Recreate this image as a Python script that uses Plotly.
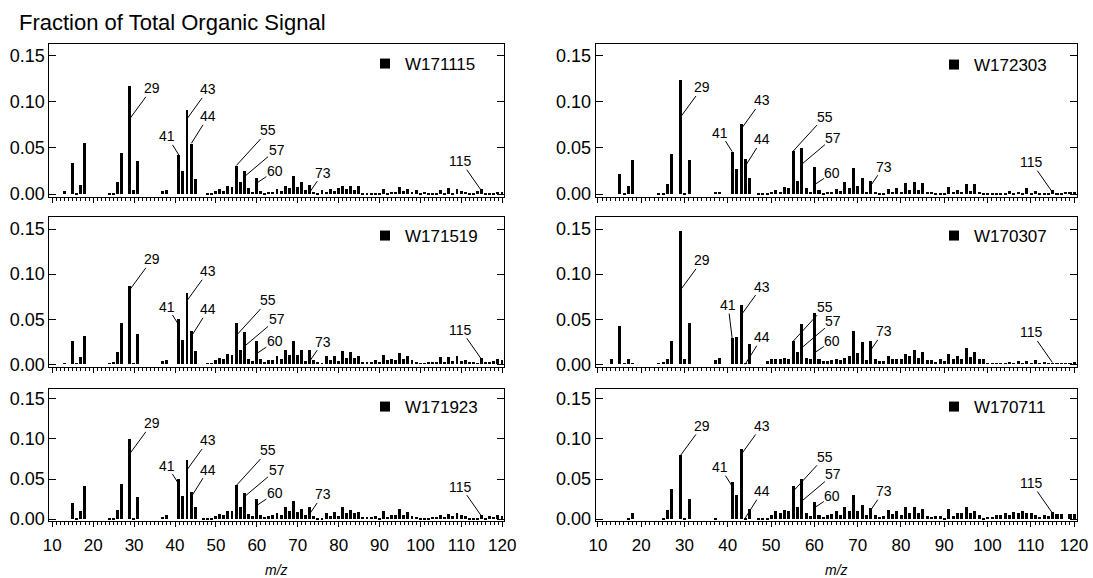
import plotly.graph_objects as go

# ---------------- data ----------------
MZ = list(range(12, 121))
SAMPLES = ["W171115", "W172303", "W171519", "W170307", "W171923", "W170711"]

FRAC_W171115 = [
    0, 0.004, 0, 0.034, 0.002, 0.010, 0.056, 0, 0,
    0, 0, 0, 0.001, 0.002, 0.013, 0.045, 0, 0.118, 0.005,
    0.036, 0, 0, 0, 0, 0, 0.004, 0.005, 0, 0,
    0.043, 0.025, 0.091, 0.055, 0.017, 0, 0, 0.001, 0.002, 0.004,
    0.006, 0.004, 0.009, 0.008, 0.031, 0.013, 0.025, 0.007, 0.003, 0.018,
    0.004, 0.002, 0.003, 0.003, 0.006, 0.004, 0.009, 0.007, 0.020, 0.008,
    0.013, 0.005, 0.010, 0.003, 0.002, 0.005, 0.003, 0.006, 0.004, 0.007,
    0.009, 0.006, 0.009, 0.005, 0.009, 0.002, 0.002, 0.002, 0.001, 0.002,
    0.006, 0.002, 0.003, 0.003, 0.008, 0.004, 0.006, 0.003, 0.005, 0.002,
    0.003, 0.001, 0.001, 0.002, 0.005, 0.002, 0.007, 0.002, 0.006, 0.004,
    0.003, 0.001, 0.001, 0.004, 0.006, 0.002, 0.001, 0.001, 0.003, 0.003,
]
FRAC_W172303 = [
    0, 0, 0, 0.022, 0.002, 0.009, 0.037, 0, 0,
    0, 0, 0, 0.001, 0.002, 0.011, 0.044, 0, 0.124, 0.002,
    0.037, 0, 0, 0, 0, 0, 0.003, 0.003, 0, 0,
    0.046, 0.028, 0.076, 0.038, 0.018, 0, 0.001, 0.001, 0.002, 0.003,
    0.005, 0.003, 0.008, 0.007, 0.047, 0.014, 0.050, 0.007, 0.003, 0.030,
    0.005, 0.002, 0.003, 0.003, 0.006, 0.004, 0.013, 0.007, 0.029, 0.009,
    0.018, 0.003, 0.015, 0.003, 0.001, 0.001, 0.006, 0.003, 0.007, 0.003,
    0.012, 0.005, 0.013, 0.005, 0.012, 0.003, 0.003, 0.001, 0.002, 0.001,
    0.008, 0.003, 0.005, 0.003, 0.011, 0.004, 0.011, 0.003, 0.002, 0.001,
    0.002, 0.002, 0.002, 0.001, 0.004, 0.001, 0.003, 0.001, 0.007, 0.002,
    0.004, 0.001, 0.001, 0.001, 0.005, 0.002, 0.001, 0.003, 0.003, 0.003,
]
FRAC_W171519 = [
    0, 0.001, 0, 0.026, 0.001, 0.008, 0.031, 0, 0,
    0, 0, 0, 0.001, 0.002, 0.013, 0.045, 0, 0.086, 0.001,
    0.033, 0, 0, 0, 0, 0, 0.003, 0.004, 0, 0,
    0.050, 0.027, 0.079, 0.036, 0.014, 0, 0, 0.001, 0.001, 0.004,
    0.007, 0.005, 0.011, 0.010, 0.045, 0.016, 0.035, 0.006, 0.003, 0.026,
    0.005, 0.002, 0.004, 0.004, 0.009, 0.005, 0.015, 0.010, 0.026, 0.010,
    0.015, 0.003, 0.015, 0.004, 0.002, 0.001, 0.009, 0.004, 0.009, 0.003,
    0.014, 0.007, 0.013, 0.007, 0.009, 0.002, 0.002, 0.002, 0.004, 0.002,
    0.010, 0.004, 0.006, 0.004, 0.012, 0.005, 0.009, 0.004, 0.002, 0.001,
    0.001, 0.002, 0.002, 0.002, 0.008, 0.002, 0.008, 0.003, 0.009, 0.003,
    0.004, 0.002, 0.002, 0.001, 0.007, 0.002, 0.002, 0.003, 0.005, 0.004,
]
FRAC_W170307 = [
    0, 0.005, 0, 0.042, 0.001, 0.005, 0.001, 0, 0,
    0, 0, 0, 0.001, 0.002, 0.005, 0.026, 0, 0.147, 0.005,
    0.045, 0, 0, 0, 0, 0, 0.004, 0.007, 0, 0,
    0.029, 0.030, 0.065, 0.001, 0.022, 0, 0, 0, 0.003, 0.005,
    0.006, 0.005, 0.007, 0.006, 0.026, 0.013, 0.044, 0.007, 0.006, 0.056,
    0.006, 0.003, 0.003, 0.004, 0.006, 0.004, 0.007, 0.009, 0.036, 0.012,
    0.024, 0.004, 0.026, 0.005, 0.003, 0.003, 0.009, 0.005, 0.005, 0.006,
    0.011, 0.009, 0.016, 0.007, 0.013, 0.004, 0.004, 0.002, 0.005, 0.003,
    0.011, 0.005, 0.009, 0.005, 0.018, 0.008, 0.013, 0.005, 0.005, 0.001,
    0.001, 0.001, 0.001, 0.001, 0.002, 0.001, 0.003, 0.001, 0.003, 0.001,
    0.004, 0.001, 0.002, 0.001, 0.001, 0.001, 0.001, 0.001, 0.001, 0.002,
]
FRAC_W171923 = [
    0, 0, 0, 0.021, 0.001, 0.010, 0.042, 0, 0,
    0, 0, 0, 0.001, 0.001, 0.012, 0.044, 0, 0.101, 0.001,
    0.028, 0, 0, 0, 0, 0, 0.003, 0.006, 0, 0,
    0.050, 0.029, 0.074, 0.034, 0.015, 0, 0.001, 0.001, 0.001, 0.004,
    0.007, 0.005, 0.010, 0.010, 0.043, 0.015, 0.033, 0.007, 0.004, 0.025,
    0.005, 0.003, 0.004, 0.005, 0.008, 0.005, 0.016, 0.010, 0.023, 0.009,
    0.013, 0.005, 0.015, 0.004, 0.002, 0.002, 0.008, 0.004, 0.009, 0.004,
    0.015, 0.008, 0.012, 0.008, 0.009, 0.003, 0.003, 0.003, 0.004, 0.002,
    0.010, 0.003, 0.006, 0.005, 0.013, 0.005, 0.009, 0.004, 0.003, 0.001,
    0.002, 0.002, 0.003, 0.003, 0.006, 0.003, 0.007, 0.004, 0.008, 0.005,
    0.004, 0.002, 0.002, 0.001, 0.006, 0.002, 0.004, 0.003, 0.006, 0.004,
]
FRAC_W170711 = [
    0, 0, 0, 0, 0, 0.001, 0.008, 0, 0,
    0, 0, 0, 0, 0.001, 0.012, 0.038, 0, 0.080, 0.001,
    0.026, 0, 0, 0, 0, 0, 0.001, 0, 0, 0,
    0.047, 0.030, 0.088, 0.001, 0.013, 0, 0.001, 0.001, 0.001, 0.005,
    0.011, 0.008, 0.012, 0.011, 0.042, 0.016, 0.050, 0.008, 0.004, 0.022,
    0.005, 0.003, 0.006, 0.007, 0.011, 0.006, 0.015, 0.011, 0.031, 0.011,
    0.018, 0.005, 0.014, 0.005, 0.003, 0.004, 0.012, 0.007, 0.011, 0.005,
    0.016, 0.008, 0.015, 0.008, 0.013, 0.004, 0.003, 0.004, 0.004, 0.002,
    0.013, 0.004, 0.008, 0.008, 0.016, 0.008, 0.011, 0.005, 0.001, 0.003,
    0.003, 0.005, 0.005, 0.008, 0.006, 0.009, 0.008, 0.010, 0.008, 0.008,
    0.005, 0.003, 0.005, 0.004, 0.009, 0.007, 0.007, 0, 0.007, 0.007,
]
SPECTRA = [FRAC_W171115, FRAC_W172303, FRAC_W171519,
           FRAC_W170307, FRAC_W171923, FRAC_W170711]

# peak labels (m/z) and the height on each bar where the leader line ends
TAG_MZ = [29, 41, 43, 44, 55, 57, 60, 73, 115]
TAG_Y_W171115 = [0.082, 0.042, 0.082, 0.055, 0.031, 0.019, 0.012, 0.0025, 0.003]
TAG_Y_W172303 = [0.083, 0.046, 0.070, 0.030, 0.046, 0.032, 0.010, 0.009, 0.002]
TAG_Y_W171519 = [0.083, 0.043, 0.071, 0.031, 0.032, 0.020, 0.012, 0.004, 0.005]
TAG_Y_W170307 = [0.082, 0.029, 0.054, 0.000, 0.025, 0.018, 0.0127, 0.0155, 0.002]
TAG_Y_W171923 = [0.082, 0.043, 0.062, 0.028, 0.042, 0.028, 0.017, 0.007, 0.003]
TAG_Y_W170711 = [0.079, 0.041, 0.080, 0.001, 0.034, 0.022, 0.014, 0.011, 0.0075]
TAG_Y = [TAG_Y_W171115, TAG_Y_W172303, TAG_Y_W171519,
         TAG_Y_W170307, TAG_Y_W171923, TAG_Y_W170711]

Y_TICKS = [0.0, 0.05, 0.10, 0.15]
Y_TICK_TEXT = ["0.00", "0.05", "0.10", "0.15"]

# ---------------- styling / layout ----------------
W, H = 1093, 578
FONT = "Liberation Sans, Arial, sans-serif"

# label text offsets (px) from the leader-line end point
TAG_OFFSETS = {29: (22, -30), 41: (-12, -19), 43: (21, -29), 44: (17, -27),
               55: (32, -35), 57: (32, -27), 60: (18, -12), 73: (13, -19),
               115: (-21, -30)}
TAG_OFFSET_OVERRIDES = {(3, 41): (-4, -33)}

XDOM = [[49.3 / W, 504.3 / W], [595.7 / W, 1077 / W]]
XRANGE = [[9.27, 120.49], [9.47, 120.69]]
YDOM = [[0.6595, 0.9244], [0.3651, 0.6240], [0.0979, 0.3277]]
YRANGE = [-0.003, 0.163]
LEGEND_PX = [(365, 64), (934, 65), (365, 236), (934, 236), (365, 407), (934, 407)]

fig = go.Figure()
layout = dict(
    width=W, height=H,
    margin=dict(l=0, r=0, t=0, b=0, pad=0, autoexpand=False),
    paper_bgcolor="white", plot_bgcolor="white",
    font=dict(family=FONT, color="black"),
    bargap=0,
    annotations=[],
)

for i, (name, vals) in enumerate(zip(SAMPLES, SPECTRA)):
    row, col = divmod(i, 2)
    sfx = "" if i == 0 else str(i + 1)
    xa, ya = "x" + sfx, "y" + sfx
    lg = "legend" + sfx
    fig.add_trace(go.Bar(
        x=MZ, y=vals, width=0.7, xaxis=xa, yaxis=ya,
        marker=dict(color="black", line=dict(width=0)),
        showlegend=False, hoverinfo="x+y",
    ))
    fig.add_trace(go.Scatter(
        x=[None], y=[None], xaxis=xa, yaxis=ya, mode="markers", name=name,
        marker=dict(symbol="square", size=10, color="black"),
        legend=lg, showlegend=True,
    ))
    lx, ly = LEGEND_PX[i]
    layout[lg] = dict(
        x=lx / W, y=1 - ly / H, xanchor="left", yanchor="middle",
        bgcolor="rgba(0,0,0,0)", borderwidth=0,
        font=dict(family=FONT, size=17, color="black"),
    )
    bottom = row == 2
    layout["xaxis" + sfx] = dict(
        domain=XDOM[col], range=XRANGE[col], anchor=ya, automargin=False,
        tick0=10, dtick=10, ticks="outside", ticklen=5, tickwidth=1,
        tickcolor="black",
        minor=dict(dtick=1, ticks="outside", ticklen=3, tickcolor="black",
                   tickwidth=1, showgrid=False),
        showline=True, linecolor="black", linewidth=1, mirror=True,
        showgrid=False, zeroline=False,
        showticklabels=bottom, ticklabelstandoff=3,
        tickfont=dict(family=FONT, size=17, color="black"),
        fixedrange=True,
    )
    layout["yaxis" + sfx] = dict(
        domain=YDOM[row], range=YRANGE, anchor=xa, automargin=False,
        tickvals=Y_TICKS, ticktext=Y_TICK_TEXT,
        ticks="inside", ticklen=7, tickwidth=1, tickcolor="black",
        showline=True, linecolor="black", linewidth=1, mirror="ticks",
        showgrid=False, zeroline=False,
        tickfont=dict(family=FONT, size=18, color="black"),
        fixedrange=True,
    )
    for mz, ty in zip(TAG_MZ, TAG_Y[i]):
        ax, ay = TAG_OFFSET_OVERRIDES.get((i, mz), TAG_OFFSETS[mz])
        layout["annotations"].append(dict(
            x=mz, y=ty, xref=xa, yref=ya, text=str(mz),
            showarrow=True, arrowhead=0, arrowwidth=1, arrowcolor="black",
            ax=ax, ay=ay, standoff=0, borderpad=0,
            font=dict(family=FONT, size=14, color="black"),
        ))
    if bottom:
        layout["annotations"].append(dict(
            x=(XDOM[col][0] + XDOM[col][1]) / 2, y=1 - 570 / H,
            xref="paper", yref="paper", text="<i>m/z</i>", showarrow=False,
            xanchor="center", yanchor="middle",
            font=dict(family=FONT, size=14, color="black"),
        ))

layout["annotations"].append(dict(
    x=17 / W, y=1 - 22 / H, xref="paper", yref="paper",
    text="Fraction of Total Organic Signal", showarrow=False,
    xanchor="left", yanchor="middle",
    font=dict(family=FONT, size=22, color="black"),
))

fig.update_layout(**layout)
fig.write_html(
    "out.html",
    config={"displayModeBar": False},
    post_script="document.body.style.margin='0';document.body.style.padding='0';",
)
